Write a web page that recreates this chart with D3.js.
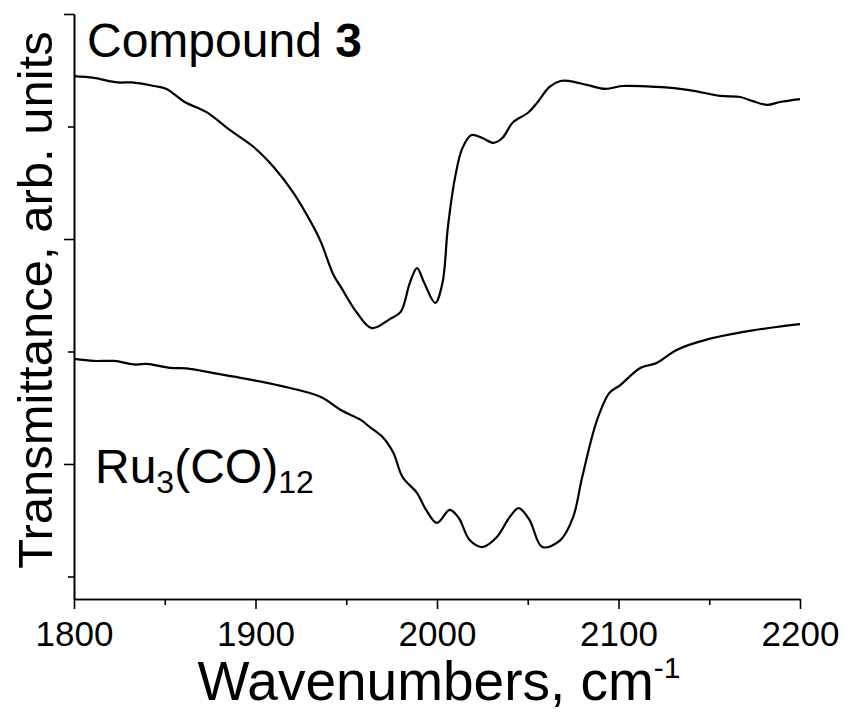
<!DOCTYPE html>
<html>
<head>
<meta charset="utf-8">
<script src="https://cdn.jsdelivr.net/npm/d3@7"></script>
<style>
  body { margin: 0; background: #fff; }
  svg text { font-family: "Liberation Sans", Arial, sans-serif; fill: #000; }
</style>
</head>
<body>
<div id="chart"></div>
<script>
// wavenumbers (cm-1) and transmittance (arb. units)
var wnCompound = [1800, 1811, 1824, 1832, 1844, 1851, 1861, 1873, 1886, 1899, 1910, 1921, 1932, 1936, 1943, 1947,
  1956, 1964, 1974, 1980, 1985, 1989, 1993, 1999, 2003, 2006, 2010, 2014, 2019, 2025, 2031, 2036, 2042, 2050,
  2055, 2062, 2068, 2073, 2083, 2093, 2102, 2121, 2139, 2156, 2167, 2174, 2182, 2189, 2200];
var trCompound = [2.224, 2.216, 2.196, 2.196, 2.180, 2.167, 2.109, 2.064, 1.984, 1.909, 1.820, 1.704, 1.553, 1.487, 1.340, 1.287,
  1.171, 1.104, 1.144, 1.176, 1.304, 1.371, 1.304, 1.216, 1.304, 1.553, 1.776, 1.904, 1.962, 1.949, 1.927, 1.949, 2.020, 2.060,
  2.104, 2.176, 2.202, 2.202, 2.184, 2.167, 2.180, 2.176, 2.162, 2.136, 2.131, 2.113, 2.096, 2.109, 2.122];

var wnRu = [1800, 1811, 1822, 1834, 1840, 1853, 1862, 1877, 1895, 1914, 1936, 1947, 1958, 1963, 1970, 1976,
  1981, 1989, 1994, 2000, 2007, 2012, 2018, 2025, 2033, 2040, 2045, 2051, 2058, 2068, 2075, 2080, 2088,
  2095, 2101, 2112, 2121, 2132, 2150, 2169, 2187, 2200];
var trRu = [0.967, 0.958, 0.958, 0.942, 0.945, 0.927, 0.925, 0.904, 0.878, 0.847, 0.798, 0.740, 0.696, 0.664, 0.620, 0.549,
  0.442, 0.371, 0.296, 0.238, 0.296, 0.260, 0.162, 0.131, 0.176, 0.264, 0.304, 0.251, 0.131, 0.162, 0.264, 0.442, 0.691,
  0.816, 0.851, 0.927, 0.949, 1.007, 1.056, 1.087, 1.109, 1.122];

var xTicks = [1800, 1900, 2000, 2100, 2200];
var xMinor = [1850, 1950, 2050, 2150];
var yMajor = [0.5, 1.5, 2.5];
var yMinor = [0, 1, 2];

var width = 849, height = 715;
var svg = d3.select("#chart").append("svg")
  .attr("width", width)
  .attr("height", height);

var x = d3.scaleLinear().domain([1800, 2200]).range([74, 800]);
var y = d3.scaleLinear().domain([-0.1, 2.5]).range([599, 14]);

function customAxis(g) {
  g.select(".domain").attr("stroke-width", 1.6);
  g.selectAll(".tick line").attr("stroke-width", 1.6);
}

// minor ticks first, then major ticks with labels
svg.append("g")
  .attr("transform", "translate(0," + y(-0.1) + ")")
  .call(d3.axisBottom(x).tickValues(xMinor).tickSize(6).tickSizeOuter(0).tickFormat(""))
  .call(customAxis);
var gx = svg.append("g")
  .attr("transform", "translate(0," + y(-0.1) + ")")
  .call(d3.axisBottom(x).tickValues(xTicks).tickSize(10).tickSizeOuter(0).tickFormat(d3.format("d")))
  .call(customAxis);
gx.selectAll(".tick text")
  .attr("font-size", 35)
  .attr("font-family", "Liberation Sans, Arial, sans-serif")
  .attr("y", 22)
  .attr("dy", "0.71em");

svg.append("g")
  .attr("transform", "translate(" + x(1800) + ",0)")
  .call(d3.axisLeft(y).tickValues(yMinor).tickSize(6).tickSizeOuter(0).tickFormat(""))
  .call(customAxis);
svg.append("g")
  .attr("transform", "translate(" + x(1800) + ",0)")
  .call(d3.axisLeft(y).tickValues(yMajor).tickSize(10).tickSizeOuter(0).tickFormat(""))
  .call(customAxis);

var line = d3.line()
  .x(function(d) { return x(d[0]); })
  .y(function(d) { return y(d[1]); })
  .curve(d3.curveCatmullRom.alpha(0.5));

svg.append("path")
  .datum(d3.zip(wnCompound, trCompound))
  .attr("fill", "none")
  .attr("stroke", "#000")
  .attr("stroke-width", 2.2)
  .attr("d", line);

svg.append("path")
  .datum(d3.zip(wnRu, trRu))
  .attr("fill", "none")
  .attr("stroke", "#000")
  .attr("stroke-width", 2.2)
  .attr("d", line);

// labels
var t1 = svg.append("text")
  .attr("x", 87)
  .attr("y", 57)
  .attr("font-size", 48);
t1.append("tspan").text("Compound ");
t1.append("tspan").attr("font-weight", "bold").text("3");

var t2 = svg.append("text")
  .attr("x", 95)
  .attr("y", 483)
  .attr("font-size", 48);
t2.append("tspan").text("Ru");
t2.append("tspan").attr("font-size", 32).attr("dy", 10).text("3");
t2.append("tspan").attr("dy", -10).text("(CO)");
t2.append("tspan").attr("font-size", 32).attr("dy", 10).text("12");

svg.append("text")
  .attr("transform", "translate(52," + 300 + ") rotate(-90)")
  .attr("text-anchor", "middle")
  .attr("font-size", 49)
  .text("Transmittance, arb. units");

var xl = svg.append("text")
  .attr("x", 439)
  .attr("y", 700)
  .attr("text-anchor", "middle")
  .attr("font-size", 55);
xl.append("tspan").text("Wavenumbers, cm");
xl.append("tspan").attr("font-size", 30).attr("dy", -22).text("-1");
</script>
</body>
</html>
